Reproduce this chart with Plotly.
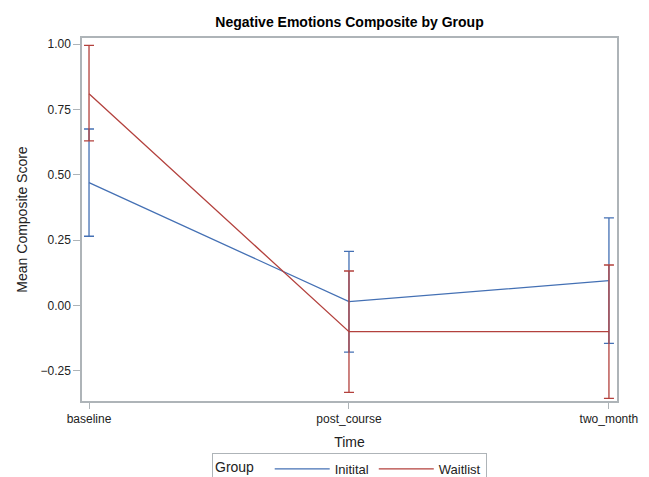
import plotly.graph_objects as go

times = ["baseline", "post_course", "two_month"]
initial_mean = [0.47, 0.015, 0.095]
initial_upper = [0.675, 0.207, 0.335]
initial_lower = [0.265, -0.178, -0.145]
waitlist_mean = [0.81, -0.10, -0.10]
waitlist_upper = [0.995, 0.132, 0.155]
waitlist_lower = [0.63, -0.332, -0.355]
y_ticks = [-0.25, 0.0, 0.25, 0.5, 0.75, 1.0]

BLUE = "#4470B4"
RED = "#B3413D"
FRAME = "#AEB4B8"

def up(mean, upper):
    return [u - m for m, u in zip(mean, upper)]

def down(mean, lower):
    return [m - l for m, l in zip(mean, lower)]

fig = go.Figure()
fig.add_trace(go.Scatter(
    x=times, y=initial_mean, mode="lines", name="Initital",
    line=dict(color=BLUE, width=1.3),
    error_y=dict(type="data", symmetric=False, array=up(initial_mean, initial_upper),
                 arrayminus=down(initial_mean, initial_lower),
                 color=BLUE, thickness=1.3, width=5),
))
fig.add_trace(go.Scatter(
    x=times, y=waitlist_mean, mode="lines", name="Waitlist",
    line=dict(color=RED, width=1.3),
    error_y=dict(type="data", symmetric=False, array=up(waitlist_mean, waitlist_upper),
                 arrayminus=down(waitlist_mean, waitlist_lower),
                 color=RED, thickness=1.3, width=5),
))

fig.update_layout(
    width=649, height=477,
    margin=dict(l=82, r=32, t=38, b=76, autoexpand=False),
    paper_bgcolor="white", plot_bgcolor="white",
    font=dict(family="Liberation Sans, Arial, sans-serif", size=12, color="#222"),
    title=dict(text="<b>Negative Emotions Composite by Group</b>", x=0.5, xanchor="center",
               xref="paper", yref="container", y=1 - 22 / 477, yanchor="middle",
               font=dict(size=14, color="black")),
    showlegend=True,
    legend=dict(orientation="h", x=0.5, xanchor="center", y=-0.143, yanchor="top",
                bordercolor=FRAME, borderwidth=1, bgcolor="white",
                title=dict(text="Group  ", font=dict(size=14)),
                font=dict(size=13), itemwidth=55, tracegroupgap=0),
)
fig.update_xaxes(
    type="category", range=[-0.027, 2.031],
    showline=True, mirror=True, linecolor=FRAME, linewidth=1.5,
    ticks="outside", ticklen=6, tickcolor=FRAME, showgrid=False, zeroline=False,
    tickfont=dict(size=12),
    title=dict(text="Time", font=dict(size=14), standoff=12),
)
fig.update_yaxes(
    range=[-0.365, 1.023], tickvals=y_ticks, tickformat=".2f",
    showline=True, mirror=True, linecolor=FRAME, linewidth=1.5,
    ticks="outside", ticklen=7, tickcolor=FRAME, showgrid=False, zeroline=False,
    tickfont=dict(size=12),
    title=dict(text="Mean Composite Score", font=dict(size=14), standoff=10),
)

fig.write_html("out.html", config={"displayModeBar": False},
               post_script="document.body.style.margin='0px';")
